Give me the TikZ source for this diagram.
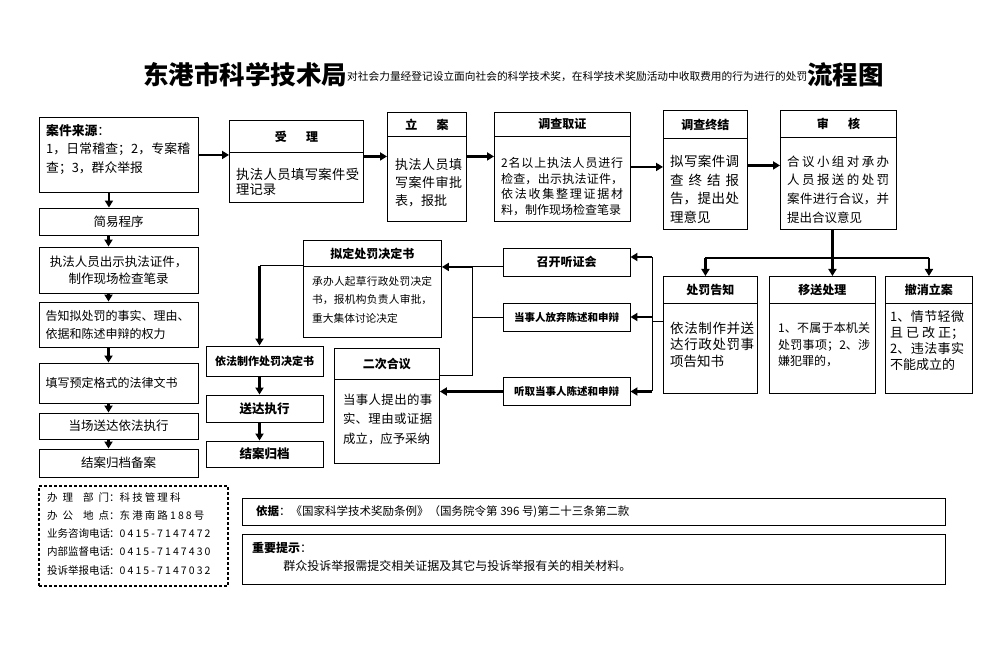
\documentclass[tikz,border=0pt]{standalone}
\usepackage{fontspec}
\setmainfont{Noto Sans CJK SC}
\XeTeXlinebreaklocale "zh"
\XeTeXlinebreakskip=0pt plus 4pt
\usetikzlibrary{arrows.meta, positioning, calc}

\tikzset{
  box/.style={draw, line width=0.9pt, inner sep=0pt},
  headcell/.style={draw, line width=0.9pt, inner sep=0pt, font=\bfseries\fontsize{12}{14}\selectfont},
  bodytext/.style={anchor=north west, inner sep=0pt, align=justify},
  stepbox/.style={draw, line width=0.9pt, minimum width=159pt, inner sep=0pt, font=\fontsize{12.5}{17}\selectfont},
  eventbox/.style={draw, line width=0.9pt, minimum width=127pt, minimum height=28pt, inner sep=0pt, font=\bfseries\fontsize{12}{14}\selectfont},
  endbox/.style={draw, line width=0.9pt, minimum width=117pt, inner sep=0pt, font=\bfseries\fontsize{12.5}{14}\selectfont},
  tipbox/.style={draw, line width=0.9pt, anchor=north west, inner sep=0pt},
  contactbox/.style={draw, line width=1.6pt, dash pattern=on 3pt off 2pt, anchor=north west, inner sep=0pt},
  flow/.style={line width=2.6pt, -{Triangle[length=7pt,width=8pt]}},
  link/.style={line width=0.9pt},
}

% box with a title row: name, x, y, width, height, title height, title, text, text options
\newcommand{\stagebox}[9]{%
  \node[box, anchor=north west, minimum width=#4pt, minimum height=#5pt] (#1) at (#2,#3) {};
  \node[headcell, anchor=north, minimum width=#4pt, minimum height=#6pt] (#1-head) at (#1.north) {#7};
  \node[bodytext, #9] (#1-text) at (#1-head.south west) {#8};
}
\newcommand{\spaced}[1]{{\addfontfeatures{LetterSpace=20}#1}}

\begin{document}
\begin{tikzpicture}[x=1pt, y=-1pt]
\fill[white] (0,0) rectangle (1002,668);
\useasboundingbox (0,0) rectangle (1002,668);

\node[anchor=base west, inner sep=0pt] (title) at (143,85) {{\bfseries\fontsize{25.5}{28}\selectfont 东港市科学技术局}\raisebox{4pt}{\fontsize{10.7}{12}\selectfont 对社会力量经登记设立面向社会的科学技术奖，在科学技术奖励活动中收取费用的行为进行的处罚}{\bfseries\fontsize{25.5}{28}\selectfont 流程图}};

% left column
\node[box, anchor=north west, minimum width=159pt, minimum height=75pt] (src) at (39,117) {};
\node[bodytext, xshift=7pt, yshift=-7pt, text width=144pt, font=\fontsize{12.8}{18.5}\selectfont] (src-text) at (src.north west) {\textbf{案件来源}：\hfill\null\linebreak 1，日常稽查；2，专案稽\linebreak 查；3，群众举报};
\node[stepbox, minimum height=27pt] (easy) at (118.5,221.5) {简易程序};
\node[stepbox, minimum height=46pt, align=center] (show) at (118.5,270) {执法人员出示执法证件，\\制作现场检查笔录};
\node[stepbox, minimum height=45pt, text width=146pt, inner xsep=6.5pt, align=left, font=\fontsize{12}{18}\selectfont] (tell) at (118.5,324.5) {告知拟处罚的事实、理由、\\依据和陈述申辩的权力};
\node[stepbox, minimum height=40pt, text width=146pt, inner xsep=6.5pt, align=left, font=\fontsize{12}{18}\selectfont] (fill) at (118.5,383) {填写预定格式的法律文书};
\node[stepbox, minimum height=26pt] (deliv) at (118.5,426) {当场送达依法执行};
\node[stepbox, minimum height=28pt] (arch) at (118.5,463) {结案归档备案};
\foreach \a/\b in {src/easy, easy/show, show/tell, tell/fill, fill/deliv, deliv/arch}
  \draw[flow] ([xshift=-10pt]\a.south) -- ([xshift=-10pt]\a.south |- \b.north);

% top row
\stagebox{accept}{229}{120}{134}{82}{32}{受\hspace{1.6em}理}{执法人员填写案件受\linebreak 理记录}{xshift=7pt, yshift=-15pt, text width=123pt, font=\fontsize{13.3}{15.5}\selectfont}
\stagebox{file}{387}{112}{79}{109}{24}{立\hspace{1.6em}案}{执法人员填\linebreak 写案件审批\linebreak 表，报批}{xshift=8pt, yshift=-21pt, text width=67pt, font=\fontsize{13}{18}\selectfont}
\stagebox{invest}{494}{112}{136}{109}{24}{调查取证}{2名以上执法人员进行\linebreak 检查，出示执法证件，\linebreak 依法收集整理证据材\linebreak 料，制作现场检查笔录}{xshift=7pt, yshift=-20.5pt, text width=122pt, font=\fontsize{12}{15.5}\selectfont}
\stagebox{conclude}{663}{110}{84}{119}{28}{调查终结}{拟写案件调\linebreak 查终结报\linebreak 告，提出处\linebreak 理意见}{xshift=7pt, yshift=-16pt, text width=69pt, font=\fontsize{13.5}{18.7}\selectfont}
\stagebox{review}{780}{110}{116}{119}{27}{审\hspace{1.6em}核}{合议小组对承办\linebreak 人员报送的处罚\linebreak 案件进行合议，并\linebreak 提出合议意见}{xshift=7pt, yshift=-17.5pt, text width=102pt, font=\fontsize{12.5}{18.7}\selectfont}
\draw[flow] (src.east) -- (src.east -| accept.west);
\draw[flow] ([yshift=5pt]accept.east) -- ([yshift=5pt]accept.east -| file.west);
\draw[flow] ([yshift=10.5pt]file.east) -- ([yshift=10.5pt]file.east -| invest.west);
\draw[flow] (invest.east) -- (invest.east -| conclude.west);
\draw[flow] ([yshift=4.5pt]conclude.east) -- ([yshift=4.5pt]conclude.east -| review.west);

% outcomes of review
\stagebox{notice}{663}{276}{94}{117}{27}{处罚告知}{依法制作并送\linebreak 达行政处罚事\linebreak 项告知书}{xshift=7pt, yshift=-18pt, text width=84pt, font=\fontsize{13.5}{16.5}\selectfont}
\stagebox{transfer}{769}{276}{106}{117}{27}{移送处理}{1、不属于本机关\linebreak 处罚事项；2、涉\linebreak 嫌犯罪的，}{xshift=9pt, yshift=-18.7pt, text width=92pt, font=\fontsize{12}{16.5}\selectfont}
\stagebox{revoke}{885}{276}{87}{117}{27}{撤消立案}{1、情节轻微\linebreak 且已改正；\linebreak 2、违法事实\linebreak 不能成立的}{xshift=5pt, yshift=-6.3pt, text width=74pt, font=\fontsize{13}{16}\selectfont}
\coordinate (fork) at ($([xshift=-6pt]review.south)+(0,28)$);
\draw[flow] ([xshift=-6pt]review.south) -- ([xshift=-6pt]review.south |- transfer.north);
\draw[link, line width=1.5pt] ([xshift=-5pt]notice.north |- fork) -- (revoke.north |- fork);
\draw[flow] ([xshift=-5pt]notice.north |- fork) -- ([xshift=-5pt]notice.north);
\draw[flow] (revoke.north |- fork) -- (revoke.north);

% hearing
\node[eventbox] (hear) at (566.5,262) {召开听证会};
\node[eventbox, font=\bfseries\fontsize{10.5}{12}\selectfont] (waive) at (566.5,317) {当事人放弃陈述和申辩};
\node[eventbox, font=\bfseries\fontsize{10.5}{12}\selectfont] (listen) at (566.5,391.5) {听取当事人陈述和申辩};
\coordinate (rbus) at ($([yshift=13pt]notice.west)+(-11,0)$);
\coordinate (hearin) at ([yshift=5pt]hear.east);
\draw[link] ([yshift=13pt]notice.west) -- (rbus);
\draw[link] (rbus |- hearin) -- (rbus |- listen.east);
\draw[flow] (rbus |- hearin) -- (hearin);
\draw[flow] (rbus |- waive.east) -- (waive.east);
\draw[flow] (rbus |- listen.east) -- (listen.east);

% decision
\stagebox{draft}{303}{240}{138}{97}{26}{拟定处罚决定书}{承办人起草行政处罚决定\linebreak 书，报机构负责人审批，\linebreak 重大集体讨论决定}{xshift=9pt, yshift=-9.3pt, text width=120pt, font=\fontsize{10.7}{18.5}\selectfont}
\stagebox{second}{334}{348}{105}{115}{31}{二次合议}{当事人提出的事\linebreak 实、理由或证据\linebreak 成立，应予采纳}{xshift=9pt, yshift=-13.5pt, text width=89pt, font=\fontsize{12.4}{19.5}\selectfont}
\coordinate (mbus) at ($(draft.east)+(31,-22)$);
\coordinate (sjoin) at ([yshift=-27pt]second.north east);
\draw[flow] (mbus) -- (mbus -| draft.east);
\draw[link] (hear.west |- mbus) -- (mbus) -- (mbus |- sjoin) -- (sjoin);
\draw[link] (waive.west) -- (waive.west -| mbus);
\draw[flow] (listen.west) -- (listen.west -| second.east);

\node[endbox, minimum height=30pt, font=\bfseries\fontsize{11}{13}\selectfont] (decide) at (264.5,361) {依法制作处罚决定书};
\node[endbox, minimum height=27pt] (serve) at (264.5,408.5) {送达执行};
\node[endbox, minimum height=26pt] (close) at (264.5,454) {结案归档};
\coordinate (draftout) at ([yshift=23pt]draft.west);
\coordinate (decin) at ([xshift=-5pt]decide.north);
\draw[link] (draftout) -- (draftout -| decin);
\draw[flow] (draftout -| decin) -- (decin);
\draw[flow] ([xshift=-5pt]decide.south) -- ([xshift=-5pt]serve.north);
\draw[flow] ([xshift=-5pt]serve.south) -- ([xshift=-5pt]close.north);

% contacts and notes
\node[contactbox, minimum width=189pt, minimum height=100pt] (contact) at (38,485) {};
\node[anchor=north west, align=left, inner sep=0pt, font=\fontsize{10.5}{18.3}\selectfont] (contact-text) at ([xshift=9pt,yshift=-7pt]contact.north west) {%
\makebox[62pt][s]{办\hfil 理\hfil\hfil 部\hfil 门}：\spaced{科技管理科}\\
\makebox[62pt][s]{办\hfil 公\hfil\hfil 地\hfil 点}：\spaced{东港南路188号}\\
\makebox[62pt][s]{业\hfil 务\hfil 咨\hfil 询\hfil 电\hfil 话}：\spaced{0415-7147472}\\
\makebox[62pt][s]{内\hfil 部\hfil 监\hfil 督\hfil 电\hfil 话}：\spaced{0415-7147430}\\
\makebox[62pt][s]{投\hfil 诉\hfil 举\hfil 报\hfil 电\hfil 话}：\spaced{0415-7147032}};

\node[tipbox, minimum width=703pt, minimum height=27pt] (basis) at (242,498) {};
\node[anchor=west, inner sep=0pt, font=\fontsize{11.5}{14}\selectfont] (basis-text) at ([xshift=14pt]basis.west) {\textbf{依据}：《国家科学技术奖励条例》（国务院令第 396 号)第二十三条第二款};
\node[tipbox, minimum width=703pt, minimum height=50pt] (tips) at (242,534) {};
\node[anchor=north west, align=left, inner sep=0pt, font=\fontsize{12}{18}\selectfont] (tips-text) at ([xshift=10pt,yshift=-8.5pt]tips.north west) {\textbf{重要提示}：\\\hspace*{2.6em}群众投诉举报需提交相关证据及其它与投诉举报有关的相关材料。};
\end{tikzpicture}
\end{document}
